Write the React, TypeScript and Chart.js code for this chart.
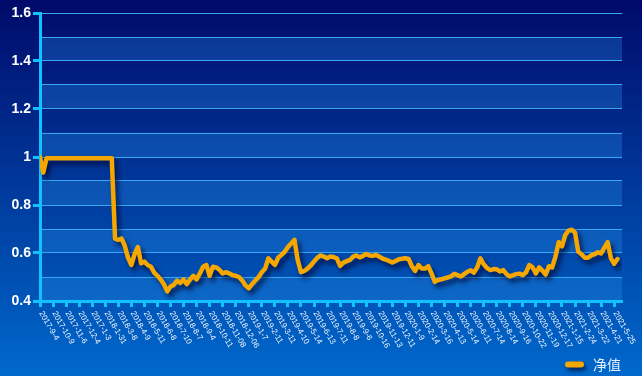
import { useEffect, useRef } from 'react';
import { Chart, registerables } from 'chart.js';

Chart.register(...registerables);

// Category labels shown under the x axis (one per tick)
const xLabels = [
  '2017-9-4', '2017-10-9', '2017-11-6', '2017-12-4', '2017-1-3', '2018-1-31', '2018-3-8', '2018-4-9',
  '2018-5-11', '2018-6-8', '2018-7-10', '2018-8-7', '2018-9-4', '2018-10-11', '2018-11-08', '2018-12-06',
  '2019-1-7', '2019-2-11', '2019-3-11', '2019-4-10', '2019-5-14', '2019-6-13', '2019-7-11', '2019-8-8',
  '2019-9-6', '2019-10-16', '2019-11-13', '2019-12-11', '2020-1-9', '2020-2-14', '2020-3-16', '2020-4-13',
  '2020-5-14', '2020-6-11', '2020-7-14', '2020-8-14', '2020-9-16', '2020-10-22', '2020-11-19', '2020-12-17',
  '2021-1-15', '2021-2-24', '2021-3-22', '2021-4-21', '2021-5-25',
];

const yTickLabels = ['0.4', '0.6', '0.8', '1', '1.2', '1.4', '1.6'];

const seriesName = '净值';

// Net value samples, 4 samples per labelled interval
const navValues = [
  1.0, 0.935, 0.995, 0.995, 0.995, 0.995, 0.995, 0.995, 0.995, 0.995,
  0.995, 0.995, 0.995, 0.995, 0.995, 0.995, 0.995, 0.995, 0.995, 0.995,
  0.995, 0.995, 0.995, 0.66, 0.655, 0.66, 0.63, 0.58, 0.55, 0.595,
  0.625, 0.557, 0.564, 0.55, 0.543, 0.518, 0.505, 0.49, 0.47, 0.44,
  0.46, 0.467, 0.485, 0.475, 0.49, 0.47, 0.49, 0.505, 0.49, 0.515,
  0.543, 0.55, 0.505, 0.543, 0.54, 0.53, 0.515, 0.52, 0.515, 0.508,
  0.505, 0.5, 0.485, 0.465, 0.453, 0.47, 0.485, 0.5, 0.52, 0.535,
  0.578, 0.564, 0.55, 0.58, 0.592, 0.605, 0.625, 0.64, 0.655, 0.57,
  0.52, 0.525, 0.535, 0.548, 0.565, 0.58, 0.59, 0.585, 0.578, 0.585,
  0.583, 0.578, 0.546, 0.56, 0.566, 0.571, 0.585, 0.59, 0.582, 0.588,
  0.596, 0.59, 0.588, 0.592, 0.585, 0.577, 0.572, 0.567, 0.56, 0.567,
  0.574, 0.576, 0.578, 0.575, 0.545, 0.525, 0.55, 0.535, 0.535, 0.545,
  0.515, 0.48, 0.487, 0.49, 0.494, 0.498, 0.503, 0.513, 0.508, 0.502,
  0.512, 0.522, 0.528, 0.518, 0.54, 0.578, 0.553, 0.538, 0.529, 0.533,
  0.532, 0.523, 0.529, 0.512, 0.502, 0.508, 0.512, 0.514, 0.508, 0.52,
  0.55, 0.54, 0.515, 0.54, 0.527, 0.51, 0.545, 0.54, 0.585, 0.645,
  0.628, 0.675, 0.693, 0.697, 0.685, 0.605, 0.595, 0.58, 0.58, 0.59,
  0.595, 0.603, 0.598, 0.622, 0.645, 0.578, 0.555, 0.575,
];

const SAMPLES_PER_LABEL = 4;
const X_MAX = 44.6;

const AXIS_COLOR = '#12c2ff';
const GRID_COLOR = '#38a8f0';
const LINE_COLOR = '#f5a700';

const backgroundPlugin = {
  id: 'bgBands',
  beforeDraw(chart: any) {
    const { ctx, width, height, chartArea, scales } = chart;
    ctx.save();
    const g = ctx.createLinearGradient(0, 0, 0, height);
    g.addColorStop(0, '#000a6a');
    g.addColorStop(1, '#0068cc');
    ctx.fillStyle = g;
    ctx.fillRect(0, 0, width, height);
    const y = scales.y;
    ctx.fillStyle = 'rgba(40,145,235,0.3)';
    for (let k = 4; k < 16; k += 2) {
      const top = y.getPixelForValue((k + 1) / 10);
      const bot = y.getPixelForValue(k / 10);
      ctx.fillRect(chartArea.left, top, chartArea.right - chartArea.left, bot - top);
    }
    ctx.restore();
  },
};

const shadowPlugin = {
  id: 'lineShadow',
  beforeDatasetDraw(chart: any) {
    const ctx = chart.ctx;
    ctx.save();
    ctx.shadowColor = 'rgba(0,0,40,0.7)';
    ctx.shadowBlur = 5;
    ctx.shadowOffsetX = 3;
    ctx.shadowOffsetY = 4;
  },
  afterDatasetDraw(chart: any) {
    chart.ctx.restore();
  },
};

const labelsPlugin = {
  id: 'xLabelsLegend',
  afterDraw(chart: any) {
    const { ctx, scales } = chart;
    const x = scales.x;
    ctx.save();
    ctx.font = '8px "Liberation Sans", Arial, sans-serif';
    ctx.fillStyle = '#f0f6ff';
    ctx.textAlign = 'left';
    ctx.textBaseline = 'middle';
    x.ticks.forEach((t: any) => {
      const label = xLabels[Math.round(t.value)];
      if (!label) return;
      const px = x.getPixelForValue(t.value);
      ctx.save();
      ctx.translate(px + 1, x.top + 11);
      ctx.rotate((60 * Math.PI) / 180);
      ctx.fillText(label, 0, 0);
      ctx.restore();
    });

    // legend
    const ds = chart.data.datasets[0];
    ctx.save();
    ctx.shadowColor = 'rgba(0,0,40,0.7)';
    ctx.shadowBlur = 4;
    ctx.shadowOffsetX = 2;
    ctx.shadowOffsetY = 3;
    ctx.fillStyle = ds.borderColor;
    ctx.beginPath();
    (ctx as any).roundRect(565, 361.5, 19, 6, 3);
    ctx.fill();
    ctx.restore();
    ctx.font = '14px "Noto Sans CJK SC", sans-serif';
    ctx.fillStyle = '#e6f0ff';
    ctx.textBaseline = 'middle';
    ctx.fillText(ds.label, 593, 365);
    ctx.restore();
  },
};

export default function App() {
  const ref = useRef<HTMLCanvasElement | null>(null);

  useEffect(() => {
    if (!ref.current) return;
    const points = navValues.map((v, i) => ({ x: i / SAMPLES_PER_LABEL, y: v }));
    const chart = new Chart(ref.current, {
      type: 'line',
      data: {
        datasets: [
          {
            label: seriesName,
            data: points,
            borderColor: LINE_COLOR,
            backgroundColor: LINE_COLOR,
            borderWidth: 4.5,
            pointRadius: 0,
            tension: 0,
            borderJoinStyle: 'round',
            borderCapStyle: 'round',
            fill: false,
          },
        ],
      },
      options: {
        responsive: false,
        animation: false,
        layout: { padding: { top: 13, right: 20, left: 0, bottom: 0 } },
        plugins: {
          legend: { display: false },
          tooltip: { enabled: false },
        },
        scales: {
          x: {
            type: 'linear',
            min: 0,
            max: X_MAX,
            afterFit: (s: any) => {
              s.height = 75;
            },
            ticks: { stepSize: 1, includeBounds: false, display: false },
            grid: {
              drawOnChartArea: false,
              drawTicks: true,
              tickLength: 6,
              tickWidth: 3,
              tickColor: AXIS_COLOR,
            },
            border: { display: true, color: AXIS_COLOR, width: 3 },
          },
          y: {
            type: 'linear',
            min: 0.4,
            max: 1.6,
            afterFit: (s: any) => {
              s.width = 40;
            },
            ticks: {
              stepSize: 0.1,
              color: '#ffffff',
              padding: 2,
              font: { family: '"Liberation Sans", Arial, sans-serif', size: 14, weight: 'bold' },
              callback: (value: any) => {
                const k = Math.round(Number(value) * 10);
                return k % 2 === 0 ? yTickLabels[(k - 4) / 2] : '';
              },
            },
            grid: {
              color: GRID_COLOR,
              lineWidth: 1,
              tickLength: 7,
              tickWidth: 3,
              tickColor: (c: any) =>
                Math.round(Number(c.tick?.value) * 10) % 2 === 0 ? AXIS_COLOR : 'rgba(0,0,0,0)',
            },
            border: { display: true, color: AXIS_COLOR, width: 3 },
          },
        },
      } as any,
      plugins: [backgroundPlugin, shadowPlugin, labelsPlugin],
    });
    return () => chart.destroy();
  }, []);

  return (
    <div style={{ position: 'fixed', left: 0, top: 0, width: 642, height: 376 }}>
      <canvas ref={ref} width={642} height={376} style={{ width: 642, height: 376, display: 'block' }} />
    </div>
  );
}
